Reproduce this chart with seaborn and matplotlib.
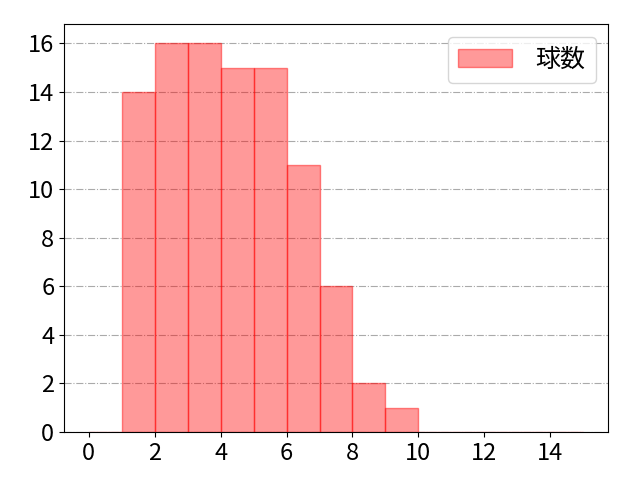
import matplotlib
matplotlib.use("Agg")
import matplotlib.pyplot as plt
import seaborn as sns
import numpy as np

plt.rcParams['font.family'] = ['Noto Sans CJK JP', 'DejaVu Sans']

bin_edges = list(range(0, 16))
bin_lefts = list(range(0, 15))
counts = [0, 14, 16, 16, 15, 15, 11, 6, 2, 1, 0, 0, 0, 0, 0]
label = "球数"

fig, ax = plt.subplots(figsize=(6.4, 4.8), dpi=100)
sns.histplot(x=bin_lefts, weights=counts, bins=bin_edges, color="red",
             alpha=0.4, linewidth=1, label=label, ax=ax)
for p in ax.patches:
    p.set_alpha(None)
    p.set_facecolor((1, 0, 0, 0.4))
    p.set_edgecolor((1, 0, 0, 0.45))
ax.set_xlabel("")
ax.set_ylabel("")
ax.grid(axis="y", linestyle="-.", color="#aaaaaa", linewidth=0.8)
ax.set_axisbelow(True)
ax.set_xticks(np.arange(0, 15, 2))
ax.set_yticks(np.arange(0, 17, 2))
ax.tick_params(labelsize=17)
ax.legend(loc="upper right", fontsize=18, handlelength=2.15,
          handletextpad=0.95)
fig.subplots_adjust(left=0.1, right=0.95, top=0.95, bottom=0.1)
fig.savefig("out.png", dpi=100)
